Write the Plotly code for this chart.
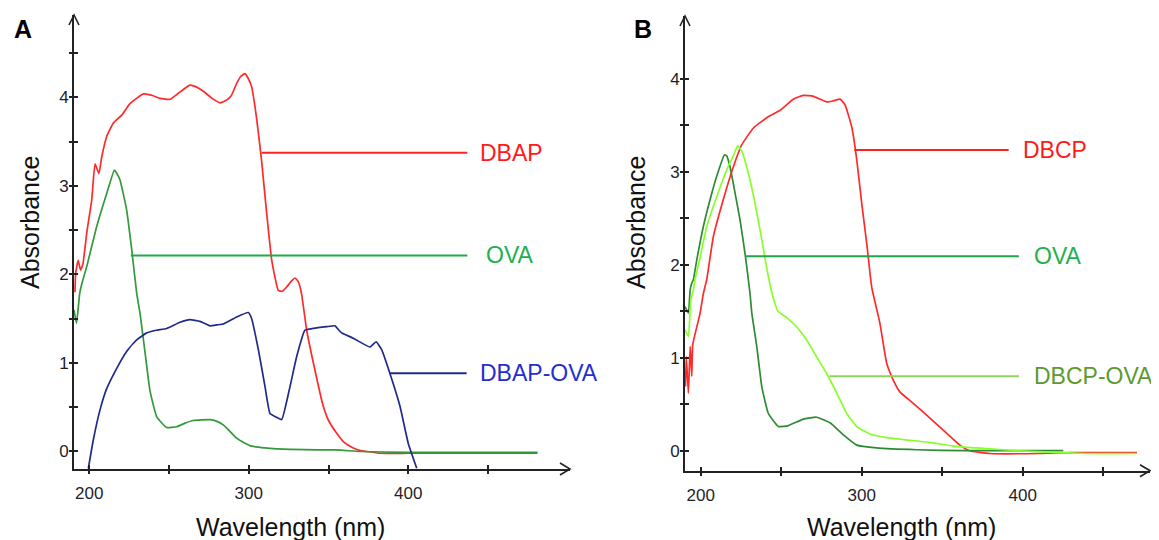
import plotly.graph_objects as go

# screen size and page offset (browser body margin)
SW, SH = 1159, 540
OFF = 8
W, H = SW - OFF, SH - OFF

# ---------------- data: panel A ----------------
a_dbap_nm = [191, 191.5, 193, 194.5, 196, 198.4, 201.5, 203.6, 206, 207.8, 210.9, 215, 220.3, 225.5,
             233.9, 240, 244.3, 250.6, 256, 263, 267, 271.5, 277, 282, 286, 289, 292.4, 295, 297.6,
             299.5, 301.8, 305, 308, 311, 314.4, 318.5, 321, 323.8, 327, 329, 331, 333, 336.3, 340.5,
             346.7, 350, 355, 360, 365.5, 370, 374, 382, 400, 440, 481]
a_dbap_abs = [1.8, 2.02, 2.16, 2.05, 2.12, 2.47, 2.84, 3.25, 3.14, 3.33, 3.56, 3.71, 3.80, 3.93,
              4.04, 4.02, 3.99, 3.98, 4.05, 4.14, 4.12, 4.07, 3.99, 3.94, 3.97, 4.02, 4.16, 4.24, 4.27,
              4.22, 4.12, 3.75, 3.29, 2.73, 2.16, 1.82, 1.81, 1.86, 1.93, 1.96, 1.92, 1.79, 1.37, 1.0,
              0.51, 0.35, 0.21, 0.10, 0.04, 0.01, 0.0, -0.02, -0.02, -0.02, -0.02]

a_ova_nm = [190.4, 192, 194, 196, 198.4, 204.6, 211, 215.7, 217, 219.2, 223.4, 226.6, 229.7, 231.8,
            235, 238, 242.3, 248.5, 254.8, 260, 265.2, 275.7, 280, 284, 288, 292.4, 297, 301.8, 310,
            317.5, 335, 355, 369.7, 400, 481]
a_ova_abs = [1.6, 1.45, 1.79, 1.94, 2.09, 2.54, 2.92, 3.18, 3.15, 3.07, 2.73, 2.28, 1.79, 1.56,
             1.11, 0.69, 0.39, 0.27, 0.28, 0.32, 0.35, 0.36, 0.34, 0.30, 0.23, 0.15, 0.10, 0.06, 0.04,
             0.03, 0.02, 0.017, 0.0, -0.01, -0.01]

a_mix_nm = [199.4, 202.5, 206.7, 210.9, 217.2, 223.4, 229.7, 236, 242, 248.5, 256.9, 263.1, 269.4,
            275.7, 280, 284, 292.4, 299.7, 301.8, 306, 310.2, 313.3, 317, 320.6, 325.8, 330, 335.2,
            340.4, 348.8, 354, 356, 358.2, 365.5, 376, 379.8, 383.3, 388.5, 394.8, 400, 405.3]
a_mix_abs = [-0.19, 0.13, 0.47, 0.71, 0.94, 1.13, 1.26, 1.34, 1.37, 1.39, 1.46, 1.49, 1.47,
             1.42, 1.43, 1.44, 1.52, 1.57, 1.50, 1.15, 0.73, 0.43, 0.39, 0.36, 0.73, 1.07, 1.37,
             1.39, 1.41, 1.42, 1.38, 1.34, 1.28, 1.18, 1.24, 1.15, 0.88, 0.51, 0.09, -0.19]

# ---------------- data: panel B ----------------
b_dbcp_nm = [190.5, 191, 192.3, 193.4, 194.4, 195, 199.6, 201.6, 203.7, 207.8, 214, 220.2, 225.5,
             232.7, 241, 249.3, 257.5, 263.7, 270, 274, 278.2, 282, 286.5, 289.6, 293.8, 296.9, 300,
             303.1, 306.2, 311.3, 315.5, 319.6, 323.8, 332, 342.4, 352.7, 361, 367, 379.7,
             410.8, 429.4, 471]
b_dbcp_abs = [0.69, 1.01, 0.62, 1.12, 0.80, 1.14, 1.48, 1.69, 1.84, 2.30, 2.70, 3.05, 3.29,
              3.47, 3.58, 3.66, 3.78, 3.82, 3.81, 3.78, 3.75, 3.76, 3.78, 3.72, 3.48, 3.13, 2.66,
              2.23, 1.76, 1.37, 0.94, 0.76, 0.63, 0.51, 0.35, 0.19, 0.06, 0.0, -0.03,
              -0.03, -0.02, -0.02]

b_ova_nm = [190.2, 192.3, 193.4, 194.4, 195.4, 197.5, 201.6, 205.8, 209.9, 214.7, 216.1, 218.2,
            221.3, 224.4, 227.5, 230.6, 231.7, 234.8, 237.9, 242, 248.2, 254.4, 263.7, 272, 280.3,
            288.6, 296.9, 309.3, 334.2, 363.1, 425.2]
b_ova_abs = [1.55, 1.48, 1.73, 1.80, 1.84, 2.05, 2.41, 2.70, 2.95, 3.18, 3.17, 3.05,
             2.77, 2.48, 2.12, 1.69, 1.48, 1.12, 0.69, 0.40, 0.26, 0.27, 0.34, 0.36, 0.30,
             0.17, 0.06, 0.03, 0.01, 0.0, 0.0]

b_mix_nm = [190.2, 192.3, 193.8, 195.4, 196.4, 199.6, 203.7, 209.9, 216.1, 220.2, 223, 225.5,
            229.6, 233.7, 237.9, 242, 245.2, 248, 253.4, 259.6, 265.8, 272, 278.2, 284.5, 290.7,
            296.9, 305.2, 315.5, 325.9, 342.4, 356.9, 371.4, 388, 408.7, 439.8, 470.8]
b_mix_abs = [1.30, 1.23, 1.62, 1.73, 1.84, 2.08, 2.41, 2.73, 3.02, 3.17, 3.28, 3.22,
             2.98, 2.66, 2.27, 1.87, 1.63, 1.50, 1.43, 1.33, 1.19, 1.01, 0.83, 0.62, 0.40,
             0.26, 0.18, 0.14, 0.12, 0.09, 0.05, 0.03, 0.01, -0.01, -0.03, -0.03]

x_tick_vals = [200, 300, 400]
x_tick_text = ["200", "300", "400"]
x_minor_vals = [250, 350, 450]
y_tick_vals = [0, 1, 2, 3, 4]
y_tick_text = ["0", "1", "2", "3", "4"]

# labels: (name, leader start nm, leader end nm, level, text start nm, line colour, text colour)
labels_a = [
    ("DBAP", 308, 437, 3.376, 443.5, "#ff2020", "#ff1a1a"),
    ("OVA", 226, 437, 2.215, 447.5, "#22aa48", "#22b04c"),
    ("DBAP-OVA", 388.5, 436.6, 0.884, 443.5, "#1f2a8a", "#1f2fd0"),
]
labels_b = [
    ("DBCP", 295.4, 391.3, 3.233, 399.0, "#ff2020", "#ff1a1a"),
    ("OVA", 227.5, 397.6, 2.09, 406.0, "#1ea648", "#22b04c"),
    ("DBCP-OVA", 279.9, 397.7, 0.80, 406.0, "#8fd45a", "#5e9a2e"),
]

FONT = "Liberation Sans, Arial, sans-serif"

def fx(px):
    return (px - OFF) / W

def fy(py):
    return 1 - (py - OFF) / H

fig = go.Figure()

def add(x, y, color, xa, ya, width=1.7):
    fig.add_trace(go.Scatter(x=x, y=y, mode="lines", xaxis=xa, yaxis=ya,
                             line=dict(color=color, width=width, shape="spline", smoothing=0.4),
                             showlegend=False, hoverinfo="skip"))

add(a_dbap_nm, a_dbap_abs, "#ff2a2a", "x", "y")
add(a_ova_nm, a_ova_abs, "#33993a", "x", "y")
add(a_mix_nm, a_mix_abs, "#1f2a8a", "x", "y")
add(b_dbcp_nm, b_dbcp_abs, "#ff2a2a", "x2", "y2")
add(b_ova_nm, b_ova_abs, "#2e8b34", "x2", "y2")
add(b_mix_nm, b_mix_abs, "#88ff2a", "x2", "y2")
# empty traces so the tick-only overlay axes get drawn
for xa, ya in (("x3", "y"), ("x", "y3"), ("x4", "y2"), ("x2", "y4")):
    fig.add_trace(go.Scatter(x=[None], y=[None], xaxis=xa, yaxis=ya, mode="lines",
                             showlegend=False, hoverinfo="skip"))

# pixel geometry of panels (screen pixels)
A = dict(x0=74, x1=570, y0=469, y1=15, xr=[190.4, 501.4], yr=[-0.198, 4.932], ym=[0.5, 1.5, 2.5, 3.5, 4.5])
B = dict(x0=685, x1=1150, y0=470.7, y1=16, xr=[190.2, 479.1], yr=[-0.215, 4.674], ym=[0.5, 1.5, 2.5, 3.5])

axcol = "#222222"
tickfont = dict(family=FONT, size=17, color="#1e1e2a")
TL = 4

def xaxis(P, anchor, labels=True, overlay=None):
    d = dict(domain=[fx(P["x0"]), fx(P["x1"])], range=P["xr"], anchor=anchor,
             showline=labels, linecolor=axcol, linewidth=1.6, showgrid=False, zeroline=False,
             ticks="inside" if labels else "outside", ticklen=TL, tickwidth=1.6, tickcolor=axcol,
             tickvals=x_tick_vals, ticktext=x_tick_text, tickfont=tickfont,
             showticklabels=labels, ticklabelstandoff=8,
             minor=dict(tickvals=x_minor_vals, ticks="inside" if labels else "outside",
                        ticklen=TL, tickwidth=1.6, tickcolor=axcol))
    if overlay:
        d["overlaying"] = overlay
    return d

def yaxis(P, anchor, labels=True, overlay=None):
    d = dict(domain=[fy(P["y0"]), fy(P["y1"])], range=P["yr"], anchor=anchor,
             showline=labels, linecolor=axcol, linewidth=1.6, showgrid=False, zeroline=False,
             ticks="inside" if labels else "outside", ticklen=TL, tickwidth=1.6, tickcolor=axcol,
             tickvals=y_tick_vals, ticktext=y_tick_text, tickfont=tickfont,
             showticklabels=labels,
             minor=dict(tickvals=P["ym"], ticks="inside" if labels else "outside",
                        ticklen=TL, tickwidth=1.6, tickcolor=axcol))
    if overlay:
        d["overlaying"] = overlay
    return d

shapes = []
annotations = []

def arrow(px, py, dx, dy, ox, oy):
    pts = [(px + dx + ox, py + dy + oy), (px, py), (px + dx - ox, py + dy - oy)]
    path = "M " + " L ".join(f"{fx(x):.5f},{fy(y):.5f}" for x, y in pts)
    shapes.append(dict(type="path", xref="paper", yref="paper", path=path,
                       line=dict(color=axcol, width=1.6)))

for P in (A, B):
    arrow(P["x0"], P["y1"], 0, 10, 5, 0)
    arrow(P["x1"], P["y0"], -10, 0, 0, 6)

for labels, xr, yr in ((labels_a, "x", "y"), (labels_b, "x2", "y2")):
    for name, s, e, lvl, tx, lc, tc in labels:
        shapes.append(dict(type="line", xref=xr, yref=yr, x0=s, x1=e, y0=lvl, y1=lvl,
                           line=dict(color=lc, width=2)))
        annotations.append(dict(xref=xr, yref=yr, x=tx, y=lvl, text=name, showarrow=False,
                                xanchor="left", yanchor="middle",
                                font=dict(family=FONT, size=23, color=tc)))

for letter, px in (("A", 23), ("B", 643)):
    annotations.append(dict(xref="paper", yref="paper", x=fx(px), y=fy(29), text=f"<b>{letter}</b>",
                            showarrow=False, xanchor="center", yanchor="middle",
                            font=dict(family=FONT, size=25, color="#000")))
for px in (30, 636):
    annotations.append(dict(xref="paper", yref="paper", x=fx(px), y=fy(223), text="Absorbance",
                            textangle=-90, showarrow=False, xanchor="center", yanchor="middle",
                            font=dict(family=FONT, size=25, color="#111")))
for px in (290, 901):
    annotations.append(dict(xref="paper", yref="paper", x=fx(px), y=fy(527), text="Wavelength (nm)",
                            showarrow=False, xanchor="center", yanchor="middle",
                            font=dict(family=FONT, size=25, color="#111")))

fig.update_layout(
    width=W, height=H, margin=dict(l=0, r=0, t=0, b=0),
    paper_bgcolor="white", plot_bgcolor="white",
    xaxis=xaxis(A, "y"), yaxis=yaxis(A, "x"),
    xaxis2=xaxis(B, "y2"), yaxis2=yaxis(B, "x2"),
    xaxis3=xaxis(A, "y", labels=False, overlay="x"),
    yaxis3=yaxis(A, "x", labels=False, overlay="y"),
    xaxis4=xaxis(B, "y2", labels=False, overlay="x2"),
    yaxis4=yaxis(B, "x2", labels=False, overlay="y2"),
    shapes=shapes, annotations=annotations, showlegend=False,
)

fig.write_html("out.html")
